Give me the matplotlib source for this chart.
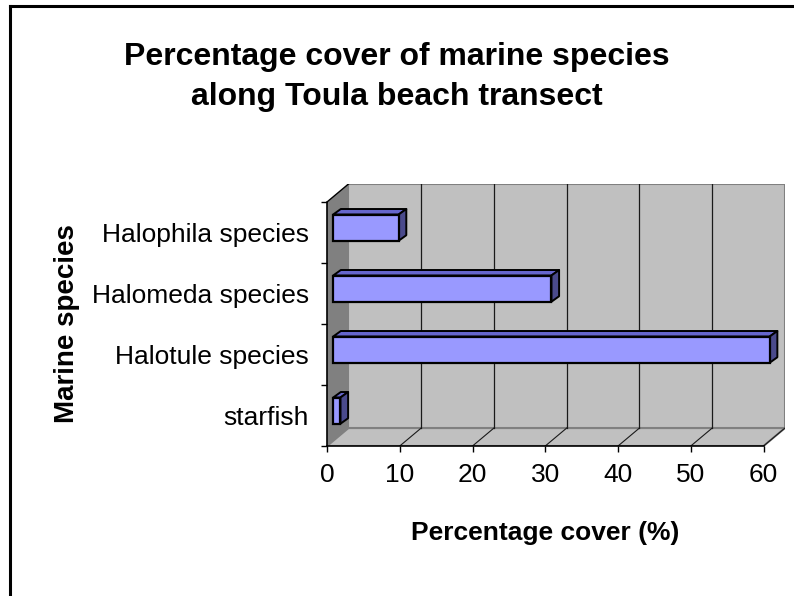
import numpy as np
import matplotlib
matplotlib.use("Agg")
import matplotlib.pyplot as plt
import matplotlib.transforms as mtransforms
from matplotlib.patches import Polygon, Rectangle
from matplotlib.lines import Line2D

# data, bottom to top
species = ["starfish", "Halotule species", "Halomeda species", "Halophila species"]
cover = [1, 60, 30, 9]
x_ticks = [0, 10, 20, 30, 40, 50, 60]

plt.rcParams['font.family'] = ['Liberation Sans', 'DejaVu Sans']

fig = plt.figure(figsize=(7.94, 5.96), dpi=100)
ax = fig.add_axes([327 / 794, 150 / 596, 458 / 794, 262 / 596])

x_max = x_ticks[-1]
n = len(species)

# oblique depth of the 3-D box (data units)
dx, dy = 2.95, 0.295
# where the bars sit inside that depth, and how thick they are
bx0, by0 = 0.85, 0.08
bdx, bdy = 1.05, 0.09
bar_h = 0.43

ax.set_xlim(0, x_max + dx)
ax.set_ylim(0, n + dy)

# walls and floor
ax.add_patch(Polygon([(0, 0), (dx, dy), (dx, n + dy), (0, n)],
                     closed=True, fc='#808080', ec='none', zorder=1))
ax.add_patch(Polygon([(0, 0), (x_max, 0), (x_max + dx, dy), (dx, dy)],
                     closed=True, fc='#c0c0c0', ec='#808080', lw=1.5, zorder=1))
ax.add_patch(Rectangle((dx, dy), x_max, n, fc='#c0c0c0', ec='#808080',
                       lw=1.5, zorder=1))

# gridlines on the back wall and the floor
for t in x_ticks[1:-1]:
    ax.plot([t + dx, t + dx], [dy, n + dy], color='#1a1a1a', lw=0.9, zorder=2)
for t in x_ticks[1:]:
    ax.plot([t, t + dx], [0, dy], color='#1a1a1a', lw=0.8, zorder=2)
ax.plot([0, dx], [n, n + dy], color='black', lw=1.0, zorder=2)

# 3-D bars
for i, v in enumerate(cover):
    y0 = i + 0.5 - bar_h / 2 + by0
    y1 = y0 + bar_h
    top = Polygon([(bx0, y1), (bx0 + v, y1), (bx0 + v + bdx, y1 + bdy), (bx0 + bdx, y1 + bdy)],
                  closed=True, fc='#6666cc', ec='black', lw=1.4, zorder=3, joinstyle='round')
    side = Polygon([(bx0 + v, y0), (bx0 + v + bdx, y0 + bdy), (bx0 + v + bdx, y1 + bdy), (bx0 + v, y1)],
                   closed=True, fc='#4a4a8c', ec='black', lw=1.4, zorder=3, joinstyle='round')
    front = Rectangle((bx0, y0), v, bar_h, fc='#9999ff', ec='black', lw=1.6, zorder=4)
    for p in (top, side, front):
        ax.add_patch(p)

# axes
for s in ('top', 'right'):
    ax.spines[s].set_visible(False)
ax.spines['left'].set_bounds(0, n)
ax.spines['bottom'].set_bounds(0, x_max)
for s in ('left', 'bottom'):
    ax.spines[s].set_linewidth(1.2)
    ax.spines[s].set_zorder(5)

ax.set_xticks(x_ticks)
ax.tick_params(axis='x', length=4.5, width=1, labelsize=19, pad=8)
ax.set_yticks(range(n + 1))
ax.set_yticklabels([])
ax.set_yticks(np.arange(n) + 0.5, minor=True)
ax.set_yticklabels(species, minor=True)
ax.tick_params(axis='y', which='major', length=4.5, width=1)
ax.tick_params(axis='y', which='minor', length=0, pad=13, labelsize=19)

ax.set_xlabel('Percentage cover (%)', fontsize=19, fontweight='bold')
ax.xaxis.set_label_coords(x_max / 2, -0.285,
                          transform=mtransforms.blended_transform_factory(ax.transData, ax.transAxes))
ax.set_ylabel('Marine species', fontsize=20, fontweight='bold')
ax.yaxis.set_label_coords(-0.54, n / 2,
                          transform=mtransforms.blended_transform_factory(ax.transAxes, ax.transData))

fig.text(0.5, 1 - 77 / 596, "Percentage cover of marine species\nalong Toula beach transect",
         ha='center', va='center', fontsize=23, fontweight='bold', linespacing=1.4)

# chart frame (only left and top edges fall inside the image)
fig.add_artist(Line2D([10 / 794, 10 / 794], [0, 1 - 6 / 596], transform=fig.transFigure,
                      color='black', lw=2.2))
fig.add_artist(Line2D([10 / 794, 1], [1 - 6 / 596, 1 - 6 / 596], transform=fig.transFigure,
                      color='black', lw=2.2))

fig.savefig('out.png', dpi=100)
